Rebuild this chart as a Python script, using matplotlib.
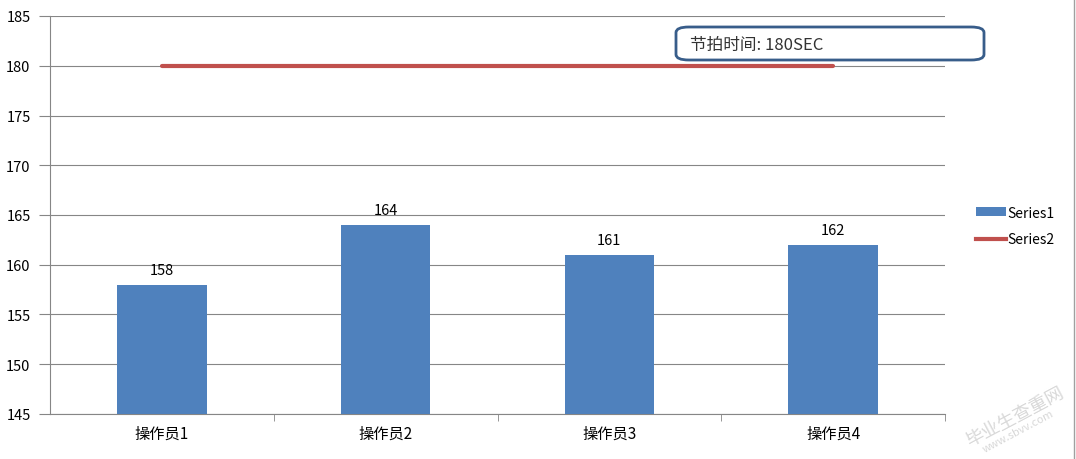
import matplotlib
matplotlib.use("Agg")
import matplotlib.pyplot as plt
from matplotlib.patches import FancyBboxPatch
from matplotlib.lines import Line2D
from matplotlib.patches import Patch

plt.rcParams['font.family'] = ['Noto Sans CJK SC', 'DejaVu Sans']

categories = ['操作员1', '操作员2', '操作员3', '操作员4']
series1 = [158, 164, 161, 162]
series2 = [180, 180, 180, 180]
yticks = [145, 150, 155, 160, 165, 170, 175, 180, 185]

fig = plt.figure(figsize=(10.76, 4.6), dpi=100)
ax = fig.add_axes([50/1076, 1-415/460, 895/1076, 398/460])

x = list(range(len(categories)))
ax.bar(x, [v - 145 for v in series1], bottom=145, width=0.40, color='#4F81BD', zorder=3)
ax.plot(x, series2, color='#C0504D', lw=3, zorder=4, solid_capstyle='round')
for xi, v in zip(x, series1):
    ax.text(xi, v + 0.8, str(v), ha='center', va='bottom', fontsize=10.5, color='black')

ax.set_xlim(-0.5, 3.5)
ax.set_ylim(145, 185)
ax.set_yticks(yticks)
ax.set_yticklabels([str(t) for t in yticks], fontsize=10.5)
ax.yaxis.grid(True, color='#868686', lw=0.8, zorder=0)
ax.set_xticks(x)
ax.set_xticklabels(categories, fontsize=11)
ax.set_xticks([0.5, 1.5, 2.5, 3.5], minor=True)
ax.tick_params(axis='x', which='major', length=0, pad=8)
ax.tick_params(axis='x', which='minor', length=5, color='#868686', direction='out')
ax.tick_params(axis='y', length=8, color='#868686', direction='out', pad=6)
for s in ['top', 'right']:
    ax.spines[s].set_visible(False)
for s in ['left', 'bottom']:
    ax.spines[s].set_color('#868686')

# text box
box = FancyBboxPatch((676/1076, 1-61/460), 308/1076, 33/460,
                     boxstyle='round,pad=0,rounding_size=0.012',
                     transform=fig.transFigure, facecolor='white',
                     edgecolor='#385D8A', lw=2, zorder=5)
fig.patches.append(box)
fig.text(690/1076, 1-45/460, '节拍时间: 180SEC', fontsize=12, va='center', ha='left',
         color='#333333', zorder=6)

handles = [Patch(facecolor='#4F81BD', edgecolor='none'),
           Line2D([0], [0], color='#C0504D', lw=3)]
fig.legend(handles, ['Series1', 'Series2'], loc='center left',
           bbox_to_anchor=(963/1076, 1-227/460), frameon=False, fontsize=10,
           handlelength=2.2, handleheight=0.6, handletextpad=0.1, labelspacing=0.9)

# watermark
fig.text(1015/1076, 1-417/460, '毕业生查重网', fontsize=13, rotation=28, color='#d8d8d8',
         ha='center', va='center')
fig.text(1018/1076, 1-432/460, 'www.sbvv.com', fontsize=8, rotation=28, color='#d8d8d8',
         ha='center', va='center')

fig.add_artist(Line2D([1074/1076, 1074/1076], [0, 1], transform=fig.transFigure,
                      color='#a0a0a0', lw=1))

fig.savefig('out.png', dpi=100)
